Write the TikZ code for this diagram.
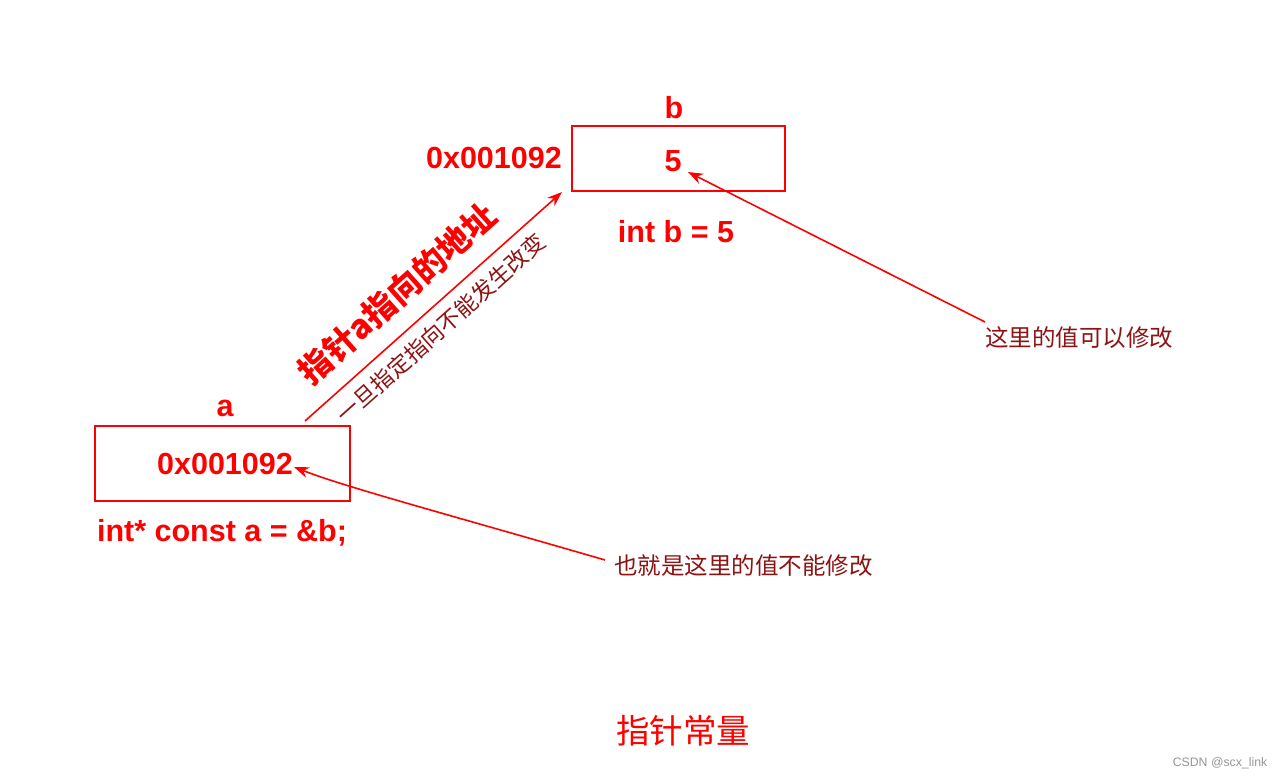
\documentclass[tikz,border=0pt]{standalone}
\usepackage{fontspec}
\setmainfont{Liberation Sans}
\newfontfamily\cjk{Noto Sans CJK SC}
\usetikzlibrary{arrows.meta,calc}
\definecolor{pred}{RGB}{255,0,0}
\definecolor{note}{RGB}{140,20,20}
\definecolor{wm}{RGB}{150,150,150}
\tikzset{
  membox/.style={draw=pred,line width=1.8pt,minimum width=255pt,minimum height=75pt,inner sep=0pt},
  big/.style={text=pred,font=\fontsize{30.5}{33}\selectfont\bfseries,inner sep=0pt},
  notetext/.style={text=note,font=\cjk\fontsize{23.5}{26}\selectfont,inner sep=0pt},
  redarrow/.style={draw=pred,line width=1.6pt,-{Stealth[length=15pt,width=11pt]}},
}
\begin{document}
\begin{tikzpicture}[x=1pt,y=-1pt]
\useasboundingbox[fill=white] (0,0) rectangle (1284,779);
% box a
\node[membox] (boxa) at (222.5,463.5) {};
\node[big] (namea) at (225,408) {a};
\node[big] (vala) at (225,464) {0x001092};
\node[big] (decla) at (222,533) {int* const a = \&b;};
% box b
\node[membox,minimum width=213pt,minimum height=65pt] (boxb) at (678.5,158.5) {};
\node[big] (nameb) at (674,108) {b};
\node[big] (valb) at (673,161) {5};
\node[big] (declb) at (676,232) {int b = 5};
\node[big,anchor=east] (addrb) at (562,158) {0x001092};
% pointer arrow
\coordinate (ps) at (305,421);
\coordinate (pe) at (562,192);
\draw[redarrow] (ps) -- (pe);
\node[text=pred,font=\cjk\fontsize{33}{36}\selectfont\bfseries,inner sep=0pt,rotate=41.7] (ptrlbl) at (397,294) {指针a指向的地址};
\node[text=note,font=\cjk\fontsize{22.5}{25}\selectfont,inner sep=0pt,rotate=41.7] (ptrnote) at (441,328) {一旦指定指向不能发生改变};
% notes
\node[notetext,anchor=west] (noteb) at (985,338) {这里的值可以修改};
\coordinate (nbs) at (985,322);
\coordinate (nbe) at (688,172);
\draw[redarrow] (nbs) -- (nbe);
\node[notetext,anchor=west] (notea) at (614,566) {也就是这里的值不能修改};
\coordinate (nas) at (605,560);
\coordinate (nae) at (294,467);
\draw[redarrow] (nas) .. controls (450,515) and (345,487) .. (nae);
% title
\node[text=pred,font=\cjk\fontsize{33.5}{37}\selectfont,inner sep=0pt] (title) at (683,731) {指针常量};
\node[text=wm,font=\fontsize{12.3}{14}\selectfont,inner sep=0pt] (wmk) at (1220,763) {CSDN @scx\_link};
\end{tikzpicture}
\end{document}
